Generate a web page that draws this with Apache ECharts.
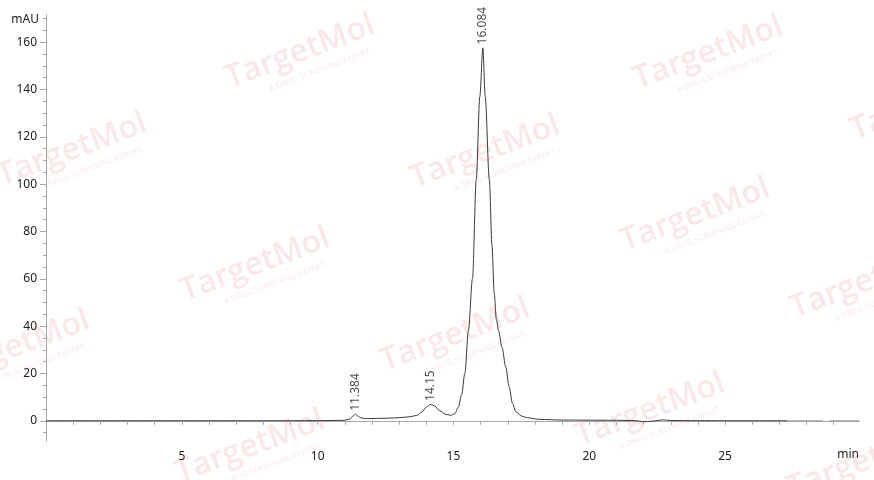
<!DOCTYPE html>
<html>
<head>
<meta charset="utf-8">
<script src="https://cdn.jsdelivr.net/npm/echarts@6/dist/echarts.min.js"></script>
<style>
html,body{margin:0;padding:0;background:#fff;}
#chart{width:874px;height:480px;}
</style>
</head>
<body>
<div id="chart"></div>
<script>
// Retention time (min) and signal (mAU)
const times = [0, 2, 4, 6, 8, 10, 11.0, 11.2, 11.3, 11.384, 11.48, 11.6, 11.8, 12.2, 12.6, 13.0, 13.4, 13.65, 13.85, 14.0, 14.15, 14.3, 14.5, 14.7, 14.9, 15.05, 15.18, 15.3, 15.42, 15.55, 15.7, 15.84, 15.97, 16.084, 16.17, 16.32, 16.42, 16.5, 16.58, 16.66, 16.79, 16.92, 17.05, 17.17, 17.3, 17.5, 17.72, 18.15, 19, 20, 21, 21.7, 22.0, 22.3, 22.7, 23.0, 24, 25, 26, 27.3];
const signal = [0, 0, 0, 0, 0, 0.05, 0.2, 0.8, 2.0, 2.75, 2.0, 1.2, 0.9, 1.0, 1.1, 1.3, 1.7, 2.3, 3.8, 5.8, 6.9, 6.3, 4.2, 2.8, 2.3, 3.0, 5.8, 11, 20, 38, 60, 102, 137, 157.6, 137, 102, 74, 54, 43, 38, 31, 23, 14.4, 7.4, 3.8, 2.0, 1.3, 0.6, 0.3, 0.25, 0.2, 0.05, -0.4, -0.2, 0.4, 0.1, 0.05, 0, 0, 0];
// trailing light baseline segment (with a short gap)
const tailTimes = [27.3, 28.6, 28.7, 28.85, 29.93];
const tailSignal = [0, 0, '-', 0, 0];
// peak annotations
const peakTimes = [11.384, 14.15, 16.084];
const peakHeights = [2.75, 6.9, 157.6];
const peakLabels = ['11.384', '14.15', '16.084'];
// axis ticks / labels
const xLabelValues = [5, 10, 15, 20, 25];
const xTickValues = [1, 2, 3, 4, 5, 6, 7, 8, 9, 10, 11, 12, 13, 14, 15, 16, 17, 18, 19, 20, 21, 22, 23, 24, 25, 26, 27, 28, 29];
const yLabelValues = [0, 20, 40, 60, 80, 100, 120, 140, 160];
const yMinorValues = [-5, 5, 10, 15, 25, 30, 35, 45, 50, 55, 65, 70, 75, 85, 90, 95, 105, 110, 115, 125, 130, 135, 145, 150, 155, 165, 170];
const xUnit = 'min';
const yUnit = 'mAU';

const mainData = times.map((t, i) => [t, signal[i]]);
const tailData = tailTimes.map((t, i) => [t, tailSignal[i]]);
const peakData = peakTimes.map((t, i) => [t, peakHeights[i]]);

// watermark placement (decoration)
const wmPos = [[300, 52], [708, 53], [72, 150], [485, 152], [925, 104], [695, 215], [255, 265], [865, 282], [15, 347], [455, 335], [650, 410], [250, 447], [862, 462]];
const wmColor = 'rgba(225,95,95,0.15)';
const graphic = wmPos.map(p => ({
  type: 'group', x: p[0], y: p[1], rotation: 0.36, silent: true, z: 0,
  children: [
    {type: 'text', style: {text: 'TargetMol', x: 0, y: 0, align: 'center', verticalAlign: 'middle', font: '600 32px "Open Sans"', fill: wmColor}},
    {type: 'text', style: {text: 'A DRUG SCREENING EXPERT', x: 12, y: 24, align: 'center', verticalAlign: 'middle', font: '600 8px "Open Sans"', fill: 'rgba(225,95,95,0.12)'}}
  ]
}));
graphic.push({
  type: 'text', x: 859, y: 455, silent: true, z: 5,
  style: {text: xUnit, align: 'right', verticalAlign: 'middle', font: '12px "Noto Sans"', fill: '#222'}
});

const chart = echarts.init(document.getElementById('chart'), null, {renderer: 'canvas'});
const axisCol = '#a8a8a8';
const textStyle = {fontFamily: 'Noto Sans', fontSize: 12, color: '#222'};
chart.setOption({
  animation: false,
  backgroundColor: '#fff',
  graphic: graphic,
  grid: {left: 46, right: 15, top: 15, bottom: 39},
  xAxis: {
    type: 'value', min: 0, max: 29.93,
    axisLine: {show: true, lineStyle: {color: axisCol, width: 1}},
    axisTick: {show: true, length: 4, customValues: xTickValues, lineStyle: {color: axisCol}},
    axisLabel: {show: true, customValues: xLabelValues, margin: 10, ...textStyle},
    splitLine: {show: false}
  },
  yAxis: [{
    type: 'value', min: -8.55, max: 171.5, position: 'left',
    name: yUnit, nameLocation: 'end', nameGap: -5,
    nameTextStyle: {fontFamily: 'Noto Sans', fontSize: 12, color: '#222', align: 'right', verticalAlign: 'middle', padding: [0, 7, 0, 0]},
    axisLine: {show: true, lineStyle: {color: axisCol, width: 1}},
    axisTick: {show: true, length: 6, customValues: yLabelValues, lineStyle: {color: axisCol}},
    axisLabel: {show: true, customValues: yLabelValues, margin: 9, ...textStyle},
    splitLine: {show: false}
  }, {
    type: 'value', min: -8.55, max: 171.5, position: 'left', offset: 0,
    axisLine: {show: false},
    axisTick: {show: true, length: 3, customValues: yMinorValues, lineStyle: {color: axisCol}},
    axisLabel: {show: false},
    splitLine: {show: false}
  }],
  series: [{
    type: 'line', data: mainData, yAxisIndex: 0, showSymbol: false, symbol: 'none',
    smooth: 0.3, smoothMonotone: 'x',
    lineStyle: {color: '#3a3a3a', width: 1}, z: 3, silent: true
  }, {
    type: 'line', data: tailData, yAxisIndex: 0, showSymbol: false, symbol: 'none',
    connectNulls: false,
    lineStyle: {color: '#9a9a9a', width: 1}, z: 3, silent: true
  }, {
    type: 'scatter', data: peakData, yAxisIndex: 0, symbolSize: 1,
    itemStyle: {color: 'rgba(0,0,0,0)'}, silent: true, z: 4,
    label: {
      show: true, position: 'top', distance: 3, rotate: 90,
      align: 'left', verticalAlign: 'middle',
      fontFamily: 'Noto Sans', fontSize: 12, color: '#222',
      formatter: p => peakLabels[p.dataIndex]
    }
  }]
});
</script>
</body>
</html>
